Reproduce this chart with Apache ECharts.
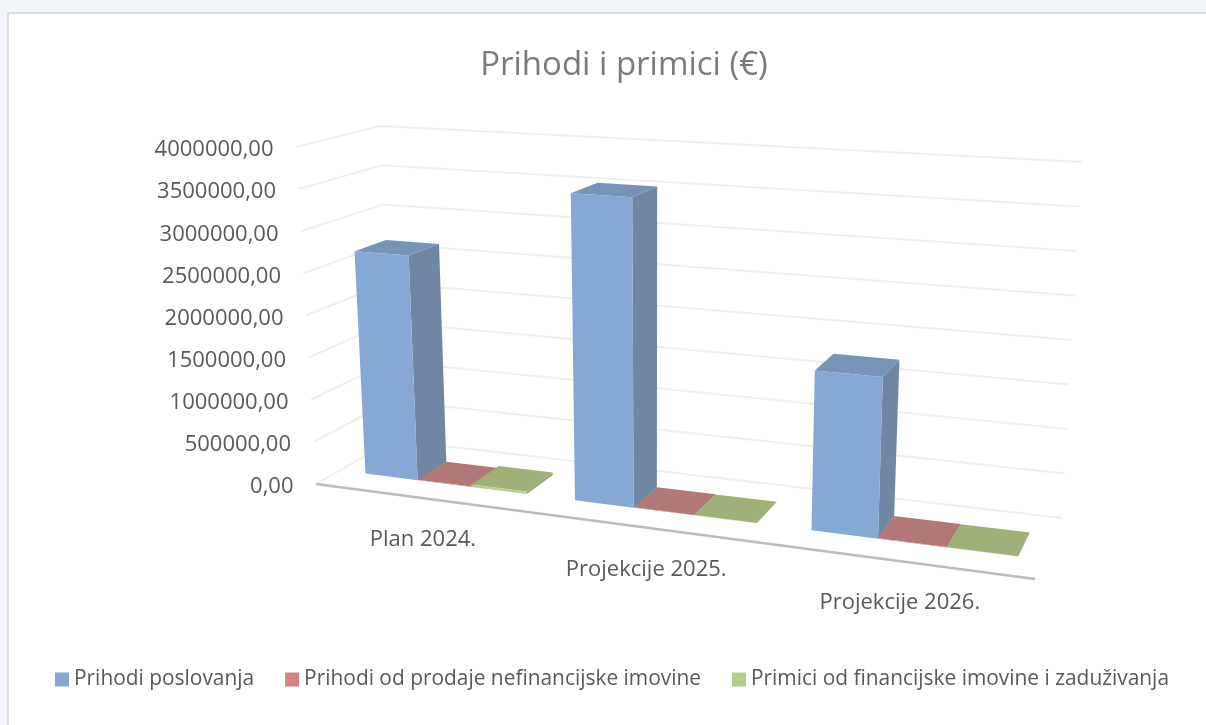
<!DOCTYPE html>
<html>
<head>
<meta charset="utf-8">
<style>
  html, body { margin: 0; padding: 0; background: #f2f6fb; }
  #frame { position: absolute; left: 7px; top: 12px; right: 0; bottom: 0; background: #fff; border-left: 2px solid #dcdcdc; border-top: 2px solid #dcdcdc; }
  #chart { position: absolute; left: 0; top: 0; width: 1206px; height: 725px; }
</style>
<script src="https://cdn.jsdelivr.net/npm/echarts@6/dist/echarts.min.js"></script>
</head>
<body>
<div id="frame"></div>
<div id="chart"></div>
<script>
const categories = ["Plan 2024.", "Projekcije 2025.", "Projekcije 2026."];
const prihodiPoslovanja = [2680000, 3550000, 1765000];
const prihodiProdaje = [5000, 5000, 5000];
const primiciFinancijske = [30000, 3000, 3000];
const yTicks = [0, 500000, 1000000, 1500000, 2000000, 2500000, 3000000, 3500000, 4000000];
const yTickLabels = ["0,00", "500000,00", "1000000,00", "1500000,00", "2000000,00", "2500000,00", "3000000,00", "3500000,00", "4000000,00"];

const font = '"Open Sans", "Noto Sans", sans-serif';

// excel style 3d box: floor and ceiling planes as homographies, height lerps between them
function homography(p0, p1, p2, p3) {
  const dx1 = p1[0] - p2[0], dx2 = p3[0] - p2[0], sx = p0[0] - p1[0] + p2[0] - p3[0];
  const dy1 = p1[1] - p2[1], dy2 = p3[1] - p2[1], sy = p0[1] - p1[1] + p2[1] - p3[1];
  const den = dx1 * dy2 - dx2 * dy1;
  const g = (sx * dy2 - dx2 * sy) / den;
  const h = (dx1 * sy - sx * dy1) / den;
  const a = p1[0] - p0[0] + g * p1[0], b = p3[0] - p0[0] + h * p3[0];
  const d = p1[1] - p0[1] + g * p1[1], e = p3[1] - p0[1] + h * p3[1];
  return (u, w) => {
    const q = g * u + h * w + 1;
    return [(a * u + b * w + p0[0]) / q, (d * u + e * w + p0[1]) / q];
  };
}
const floorPlane = homography([316, 484], [1035, 579], [1062, 518], [393, 440]);
const topPlane = homography([296, 147], [1053, 191], [1082, 162], [380, 126]);

function project(u, w, v) {
  const a = floorPlane(u, w), b = topPlane(u, w);
  return [a[0] + (b[0] - a[0]) * v, a[1] + (b[1] - a[1]) * v];
}

// axis value -> 0..1 through the hidden grid
function toUnit(api, params, cat, val) {
  const pt = api.coord([cat, val]);
  const cs = params.coordSys;
  return { u: (pt[0] - cs.x) / cs.width, v: (cs.y + cs.height - pt[1]) / cs.height };
}

const frontColors = ["rgba(128,165,210,0.96)", "rgba(214,128,128,0.96)", "rgba(181,207,133,0.96)"];
const sideColors = ["rgba(106,130,160,0.96)", "rgba(166,100,100,0.96)", "rgba(140,160,103,0.96)"];
const topColors = ["rgba(112,144,180,0.96)", "rgba(174,114,112,0.96)", "rgba(155,174,114,0.96)"];

const colStart = 0.13, colWidth = 0.26, depthFront = 0.295, depthBack = 0.69;

function renderBar(params, api) {
  const s = params.seriesIndex - 1;
  const m = toUnit(api, params, api.value(0), api.value(1));
  const band = 1 / categories.length;
  const bandStart = m.u - band / 2;
  const u0 = bandStart + band * (colStart + colWidth * s);
  const u1 = u0 + band * colWidth;
  const pts = (list) => list.map(p => project(p[0], p[1], p[2]));
  const front = pts([[u0, depthFront, 0], [u1, depthFront, 0], [u1, depthFront, m.v], [u0, depthFront, m.v]]);
  const side = pts([[u1, depthFront, 0], [u1, depthBack, 0], [u1, depthBack, m.v], [u1, depthFront, m.v]]);
  const top = pts([[u0, depthFront, m.v], [u1, depthFront, m.v], [u1, depthBack, m.v], [u0, depthBack, m.v]]);
  return {
    type: "group",
    children: [
      { type: "polygon", shape: { points: side }, style: { fill: sideColors[s] } },
      { type: "polygon", shape: { points: top }, style: { fill: topColors[s] } },
      { type: "polygon", shape: { points: front }, style: { fill: frontColors[s] } }
    ]
  };
}

function renderWalls(params, api) {
  const val = api.value(0);
  const v = toUnit(api, params, 0, val).v;
  const a = project(0, 0, v), b = project(0, 1, v), c = project(1, 1, v);
  return {
    type: "group",
    children: [
      { type: "polyline", shape: { points: [a, b, c] }, style: { fill: "none", stroke: "#efefef", lineWidth: 2 } },
      { type: "text", style: { text: yTickLabels[params.dataIndex], x: a[0] - 22.5, y: a[1] + 3, align: "right", verticalAlign: "middle", fill: "#595959", font: "22px " + font } }
    ]
  };
}

function renderAxis(params, api) {
  const i = api.value(0);
  const m = toUnit(api, params, i, 0);
  const p = project(m.u, 0, 0);
  const children = [{ type: "text", style: { text: categories[i], x: p[0] + 5, y: p[1] + 42.5, align: "center", verticalAlign: "middle", fill: "#595959", font: "22px " + font } }];
  if (i === 0) {
    children.push({ type: "line", shape: { x1: project(0, 0, 0)[0], y1: project(0, 0, 0)[1], x2: project(1, 0, 0)[0], y2: project(1, 0, 0)[1] }, style: { stroke: "#bcbcbc", lineWidth: 2.5 } });
  }
  return { type: "group", children: children };
}

function barSeries(name, values, color) {
  return {
    name: name,
    type: "custom",
    renderItem: renderBar,
    itemStyle: { color: color },
    encode: { x: 0, y: 1 },
    data: values.map((v, i) => [i, v]),
    z: 5
  };
}

const chart = echarts.init(document.getElementById("chart"));
chart.setOption({
  animation: false,
  backgroundColor: "transparent",
  title: {
    text: "Prihodi i primici (€)",
    left: 619,
    top: 44,
    textAlign: "center",
    textStyle: { fontFamily: font, fontSize: 33, fontWeight: 400, color: "#7a7a7a" }
  },
  legend: {
    left: 50,
    top: 664,
    icon: "rect",
    itemWidth: 14,
    itemHeight: 14,
    itemGap: 31,
    selectedMode: false,
    textStyle: { fontFamily: font, fontSize: 20.9, color: "#595959" },
    data: ["Prihodi poslovanja", "Prihodi od prodaje nefinancijske imovine", "Primici od financijske imovine i zaduživanja"]
  },
  grid: { left: 100, top: 100, width: 900, height: 400 },
  xAxis: { type: "category", data: categories, show: false },
  yAxis: { type: "value", min: 0, max: 4000000, interval: 500000, show: false },
  series: [
    { type: "custom", renderItem: renderWalls, encode: { y: 0 }, data: yTicks.map(v => [v]), z: 1, silent: true },
    barSeries("Prihodi poslovanja", prihodiPoslovanja, "#85a8d0"),
    barSeries("Prihodi od prodaje nefinancijske imovine", prihodiProdaje, "#d48282"),
    barSeries("Primici od financijske imovine i zaduživanja", primiciFinancijske, "#b5cf88"),
    { type: "custom", renderItem: renderAxis, encode: { x: 0 }, data: categories.map((c, i) => [i]), z: 2, silent: true }
  ]
});
</script>
</body>
</html>
